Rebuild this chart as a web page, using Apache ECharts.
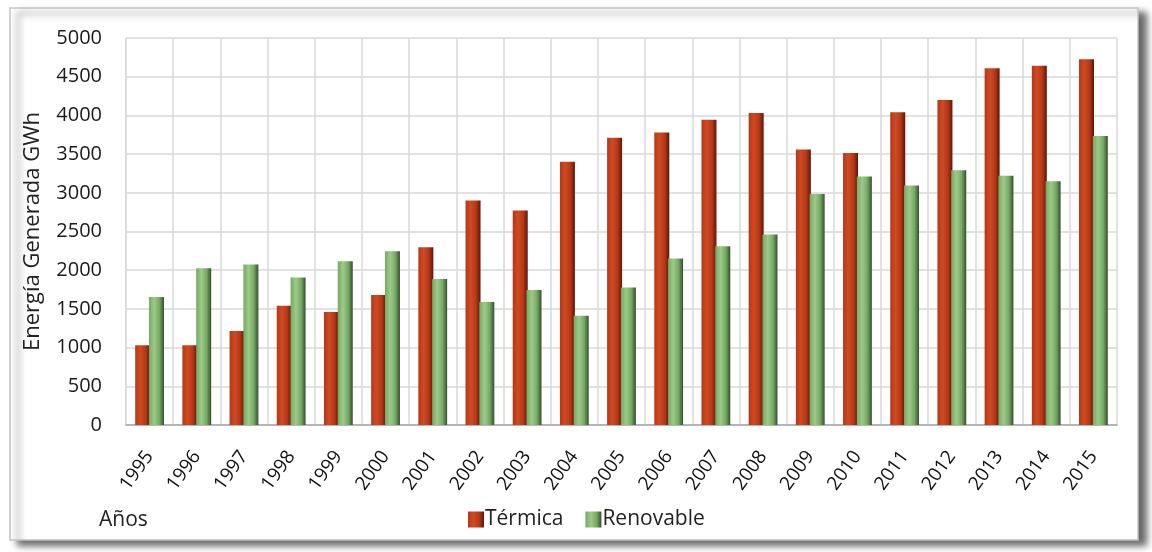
<!DOCTYPE html>
<html>
<head>
<meta charset="utf-8">
<script src="https://cdn.jsdelivr.net/npm/echarts@6/dist/echarts.min.js"></script>
<style>
  html, body { margin: 0; padding: 0; background: #fff; }
  #chart { width: 1152px; height: 552px; }
</style>
</head>
<body>
<div id="chart"></div>
<script>
const years = ['1995', '1996', '1997', '1998', '1999', '2000', '2001', '2002', '2003', '2004', '2005',
  '2006', '2007', '2008', '2009', '2010', '2011', '2012', '2013', '2014', '2015']
const termica = [1030, 1030, 1215, 1540, 1460, 1680, 2295, 2900, 2770, 3400, 3710,
  3780, 3945, 4030, 3560, 3515, 4040, 4200, 4610, 4640, 4725]
const renovable = [1655, 2025, 2075, 1905, 2115, 2245, 1885, 1590, 1745, 1410, 1775,
  2150, 2310, 2460, 2985, 3210, 3095, 3290, 3220, 3150, 3735]

const font = 'Open Sans'

const chart = echarts.init(document.getElementById('chart'))

function barGradient(light, mid, dark) {
  return new echarts.graphic.LinearGradient(0, 0, 1, 0, [
    { offset: 0, color: mid },
    { offset: 0.35, color: light },
    { offset: 0.7, color: mid },
    { offset: 1, color: dark }
  ])
}

chart.setOption({
  animation: false,
  textStyle: { fontFamily: font },
  graphic: [
    {
      type: 'rect',
      z: -10,
      shape: { x: 10, y: 8, width: 1128, height: 532 },
      style: {
        fill: '#fff',
        stroke: '#c4c4c4',
        lineWidth: 1.5,
        shadowColor: 'rgba(0,0,0,0.6)',
        shadowBlur: 7,
        shadowOffsetX: 8,
        shadowOffsetY: 5
      }
    },
    {
      type: 'text',
      left: 99,
      top: 510,
      style: { text: 'Años', fontSize: 21, fontFamily: font, fill: '#222' }
    }
  ],
  legend: {
    left: 463,
    top: 504,
    itemWidth: 16,
    itemHeight: 16,
    itemGap: 22,
    icon: 'rect',
    textStyle: { fontSize: 21, color: '#222', padding: [0, 0, 0, -4] },
    data: ['Térmica', 'Renovable']
  },
  grid: {
    left: 126,
    right: 35,
    top: 38,
    bottom: 127
  },
  xAxis: {
    type: 'category',
    data: years,
    axisTick: { show: false },
    axisLine: { lineStyle: { color: '#a6a6a6', width: 1.5 } },
    axisLabel: {
      rotate: 54,
      fontSize: 19,
      color: '#111',
      margin: 28,
      interval: 0
    },
    splitLine: { show: true, interval: 0, lineStyle: { color: '#d9d9d9', width: 1.5 } }
  },
  yAxis: {
    type: 'value',
    min: 0,
    max: 5000,
    interval: 500,
    name: 'Energía Generada GWh',
    nameLocation: 'middle',
    nameGap: 82,
    nameTextStyle: { fontSize: 22, color: '#222' },
    axisLine: { show: true, lineStyle: { color: '#d9d9d9', width: 1.5 } },
    axisTick: { show: false },
    axisLabel: { fontSize: 20, color: '#1a1a1a', margin: 24, formatter: (v) => String(v) },
    splitLine: { lineStyle: { color: '#d9d9d9', width: 1.5 } }
  },
  series: [
    {
      name: 'Térmica',
      type: 'bar',
      barWidth: 15,
      barGap: '-8%',
      data: termica,
      itemStyle: { color: barGradient('#d04a20', '#b3381a', '#5e1606') }
    },
    {
      name: 'Renovable',
      type: 'bar',
      barWidth: 15,
      data: renovable,
      itemStyle: { color: barGradient('#9ccb88', '#76a864', '#34502c') }
    }
  ]
})
</script>
</body>
</html>
